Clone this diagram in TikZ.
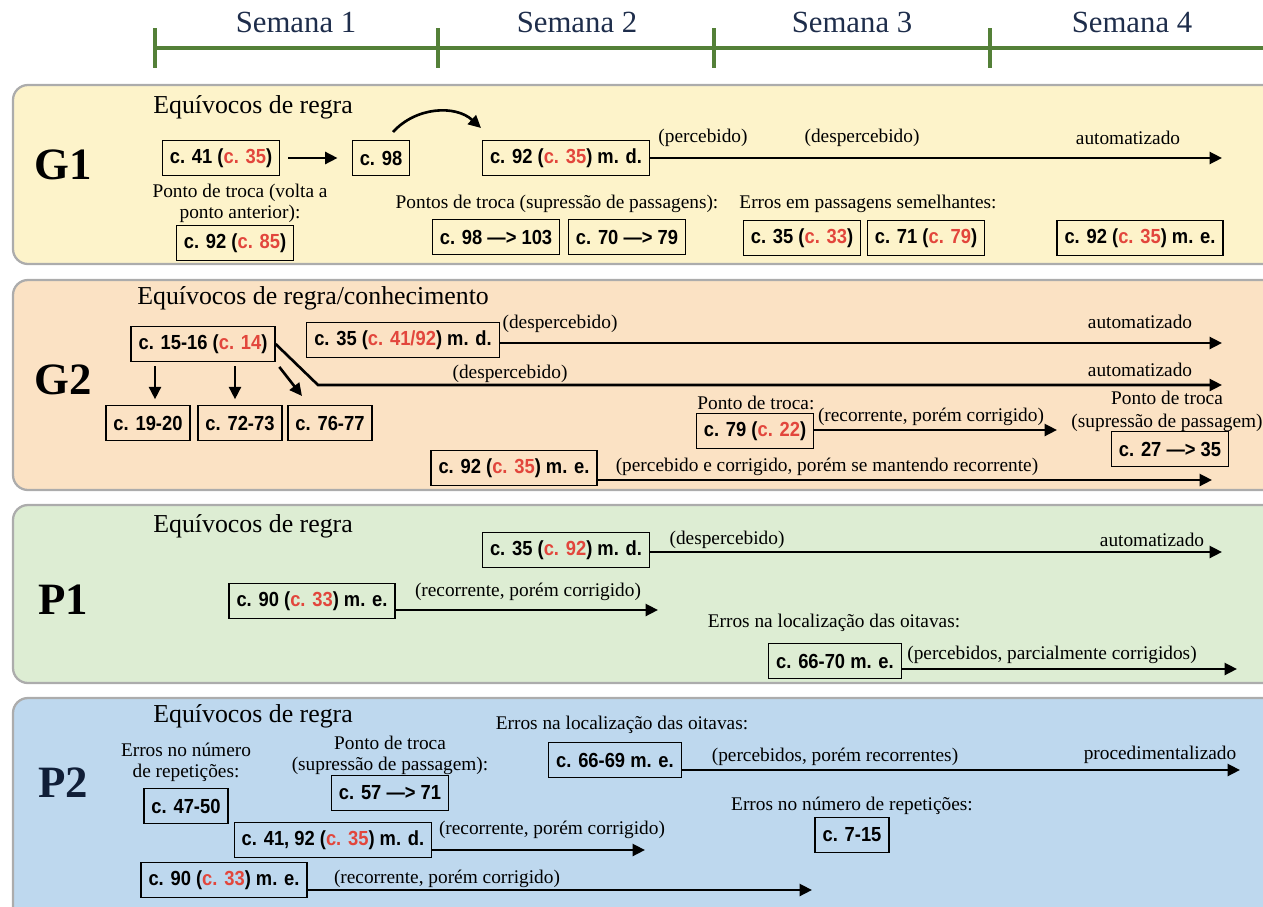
\documentclass[tikz,border=0pt]{standalone}
\usepackage{fontspec}
\setmainfont{Liberation Serif}
\newfontfamily\boxfont[FakeStretch=0.9]{Liberation Sans}
\usetikzlibrary{arrows.meta}

\definecolor{fundoG1}{RGB}{253,243,202}
\definecolor{fundoG2}{RGB}{251,226,196}
\definecolor{fundoP1}{RGB}{221,237,211}
\definecolor{fundoP2}{RGB}{190,216,238}
\definecolor{borda}{RGB}{172,172,172}
\definecolor{verde}{RGB}{84,128,56}
\definecolor{azul}{RGB}{30,45,75}
\definecolor{marinho}{RGB}{16,30,55}
\definecolor{vermelho}{RGB}{226,70,60}
\newcommand{\cv}[1]{\textcolor{vermelho}{#1}}

\tikzset{
  caixa/.style={draw, line width=0.8pt, font=\boxfont\bfseries\fontsize{11.6}{13}\selectfont, inner xsep=1.5mm, minimum height=7mm},
  seta/.style={line width=1.5pt, -{Triangle[length=2.5mm,width=2.4mm]}},
  nota/.style={font=\fontsize{11}{12}\selectfont, inner sep=0pt, align=center},
  titulo/.style={font=\fontsize{14.7}{16}\selectfont, anchor=west, inner sep=0pt},
  grupo/.style={font=\bfseries\fontsize{25.5}{28}\selectfont},
  painel/.style={draw=borda, line width=1.3pt, rounded corners=3mm},
  semana/.style={font=\fontsize{17.5}{20}\selectfont, text=azul},
  linha/.style={draw=verde, line width=1.9pt}
}

\begin{document}
\begin{tikzpicture}[x=0.2mm, y=-0.2mm]
	\useasboundingbox (0,0) rectangle (1263,906);

	%linha do tempo
	\draw[linha] (155,48) -- (1290,48);
	\foreach \x in {155,438,714,990} \draw[linha] (\x,28) -- (\x,68);
	\node[semana] (sem1) at (296,22) {Semana 1};
	\node[semana] (sem2) at (577,22) {Semana 2};
	\node[semana] (sem3) at (852,22) {Semana 3};
	\node[semana] (sem4) at (1132,22) {Semana 4};

	%paineis
	\draw[painel, fill=fundoG1] (13,85) rectangle (1300,264);
	\draw[painel, fill=fundoG2] (13,280) rectangle (1300,490);
	\draw[painel, fill=fundoP1] (13,505) rectangle (1300,683);
	\draw[painel, fill=fundoP2] (13,698) rectangle (1300,940);

	% G1
	\node[grupo] (g1) at (63,165) {G1};
	\node[titulo] (g1t) at (153,107) {Equívocos de regra};
	\node[caixa] (g1a) at (221,158) {c. 41 (\cv{c. 35})};
	\node[caixa] (g1b) at (381,158) {c. 98};
	\node[caixa] (g1c) at (566,158) {c. 92 (\cv{c. 35}) m. d.};
	\draw[seta, shorten <=1.6mm, shorten >=2.8mm] (g1a) -- (g1b);
	\coordinate (g1arcA) at (393,132);
	\coordinate (g1arcB) at (481,128);
	\draw[seta] (g1arcA) to[bend left=45] (g1arcB);
	\coordinate (g1fim) at (1222,158);
	\draw[seta] (g1c.east |- g1fim) -- (g1fim);
	\node[nota] (g1n1) at (703,138) {(percebido)};
	\node[nota] (g1n2) at (862,138) {(despercebido)};
	\node[nota] (g1n3) at (1128,138) {automatizado};
	\node[nota] (g1n4) at (240,203) {Ponto de troca (volta a\\ponto anterior):};
	\node[caixa] (g1d) at (235,243) {c. 92 (\cv{c. 85})};
	\node[nota] (g1n5) at (557,204) {Pontos de troca (supressão de passagens):};
	\node[caixa] (g1e) at (496,237) {c. 98 —> 103};
	\node[caixa] (g1f) at (627,237) {c. 70 —> 79};
	\node[nota] (g1n6) at (868,204) {Erros em passagens semelhantes:};
	\node[caixa] (g1g) at (802,238) {c. 35 (\cv{c. 33})};
	\node[caixa] (g1h) at (926,238) {c. 71 (\cv{c. 79})};
	\node[caixa] (g1i) at (1140,238) {c. 92 (\cv{c. 35}) m. e.};

	% G2
	\node[grupo] (g2) at (63,380) {G2};
	\node[titulo] (g2t) at (137,298) {Equívocos de regra/conhecimento};
	\node[caixa] (g2a) at (203,344) {c. 15-16 (\cv{c. 14})};
	\node[caixa] (g2b) at (403,340) {c. 35 (\cv{c. 41/92}) m. d.};
	\coordinate (g2fimA) at (1222,343);
	\draw[seta] (g2b.east |- g2fimA) -- (g2fimA);
	\node[nota] (g2n1) at (560,324) {(despercebido)};
	\node[nota] (g2n2) at (1140,322) {automatizado};
	\coordinate (g2dobra) at (318,385);
	\coordinate (g2fimB) at (1222,385);
	\draw[seta] (g2a.east) -- (g2dobra) -- (g2fimB);
	\node[nota] (g2n3) at (510,374) {(despercebido)};
	\node[nota] (g2n4) at (1140,370) {automatizado};
	\node[caixa] (g2c) at (148,423) {c. 19-20};
	\node[caixa] (g2d) at (240,423) {c. 72-73};
	\node[caixa] (g2e) at (330,423) {c. 76-77};
	\draw[seta, shorten <=0.8mm, shorten >=1.1mm] (g2a.south -| 155,0) -- (g2c.north -| 155,0);
	\draw[seta, shorten <=0.8mm, shorten >=1.1mm] (g2a.south -| 235,0) -- (g2d.north -| 235,0);
	\coordinate (g2ponta) at (302,396);
	\draw[seta, shorten <=1.2mm] (g2a.south east) -- (g2ponta);
	\node[nota, anchor=west] (g2n5) at (697,403) {Ponto de troca:};
	\node[caixa] (g2f) at (755,431) {c. 79 (\cv{c. 22})};
	\coordinate (g2fimC) at (1057,430);
	\draw[seta] (g2f.east |- g2fimC) -- (g2fimC);
	\node[nota] (g2n6) at (931,417) {(recorrente, porém corrigido)};
	\node[nota, font=\fontsize{11}{13}\selectfont] (g2n7) at (1167,411) {Ponto de troca\\(supressão de passagem)};
	\node[caixa] (g2g) at (1170,449) {c. 27 —> 35};
	\node[caixa] (g2h) at (514,468) {c. 92 (\cv{c. 35}) m. e.};
	\coordinate (g2fimD) at (1212,480);
	\draw[seta] (g2h.east |- g2fimD) -- (g2fimD);
	\node[nota] (g2n8) at (827,467) {(percebido e corrigido, porém se mantendo recorrente)};

	% P1
	\node[grupo] (p1) at (63,600) {P1};
	\node[titulo] (p1t) at (153,526) {Equívocos de regra};
	\node[caixa] (p1a) at (566,550) {c. 35 (\cv{c. 92}) m. d.};
	\coordinate (p1fimA) at (1222,552);
	\draw[seta] (p1a.east |- p1fimA) -- (p1fimA);
	\node[nota] (p1n1) at (727,540) {(despercebido)};
	\node[nota] (p1n2) at (1152,540) {automatizado};
	\node[caixa] (p1b) at (312,601) {c. 90 (\cv{c. 33}) m. e.};
	\coordinate (p1fimB) at (658,610);
	\draw[seta] (p1b.east |- p1fimB) -- (p1fimB);
	\node[nota] (p1n3) at (528,592) {(recorrente, porém corrigido)};
	\node[nota] (p1n4) at (834,623) {Erros na localização das oitavas:};
	\node[caixa] (p1c) at (835,661) {c. 66-70 m. e.};
	\coordinate (p1fimC) at (1237,669);
	\draw[seta] (p1c.east |- p1fimC) -- (p1fimC);
	\node[nota] (p1n5) at (1052,655) {(percebidos, parcialmente corrigidos)};

	% P2
	\node[grupo, text=marinho] (p2) at (63,783) {P2};
	\node[titulo] (p2t) at (153,716) {Equívocos de regra};
	\node[nota] (p2n1) at (186,762) {Erros no número\\de repetições:};
	\node[caixa] (p2a) at (186,806) {c. 47-50};
	\node[nota] (p2n2) at (390,755) {Ponto de troca\\(supressão de passagem):};
	\node[caixa] (p2b) at (390,793) {c. 57 —> 71};
	\node[nota] (p2n3) at (622,725) {Erros na localização das oitavas:};
	\node[caixa] (p2c) at (615,760) {c. 66-69 m. e.};
	\coordinate (p2fimA) at (1240,770);
	\draw[seta] (p2c.east |- p2fimA) -- (p2fimA);
	\node[nota] (p2n4) at (835,757) {(percebidos, porém recorrentes)};
	\node[nota] (p2n5) at (1160,755) {procedimentalizado};
	\node[nota] (p2n6) at (852,806) {Erros no número de repetições:};
	\node[caixa] (p2d) at (852,835) {c. 7-15};
	\node[caixa] (p2e) at (333,840) {c. 41, 92 (\cv{c. 35}) m. d.};
	\coordinate (p2fimB) at (645,850);
	\draw[seta] (p2e.east |- p2fimB) -- (p2fimB);
	\node[nota] (p2n7) at (552,830) {(recorrente, porém corrigido)};
	\node[caixa] (p2f) at (224,880) {c. 90 (\cv{c. 33}) m. e.};
	\coordinate (p2fimC) at (812,890);
	\draw[seta] (p2f.east |- p2fimC) -- (p2fimC);
	\node[nota] (p2n8) at (447,879) {(recorrente, porém corrigido)};
\end{tikzpicture}
\end{document}
